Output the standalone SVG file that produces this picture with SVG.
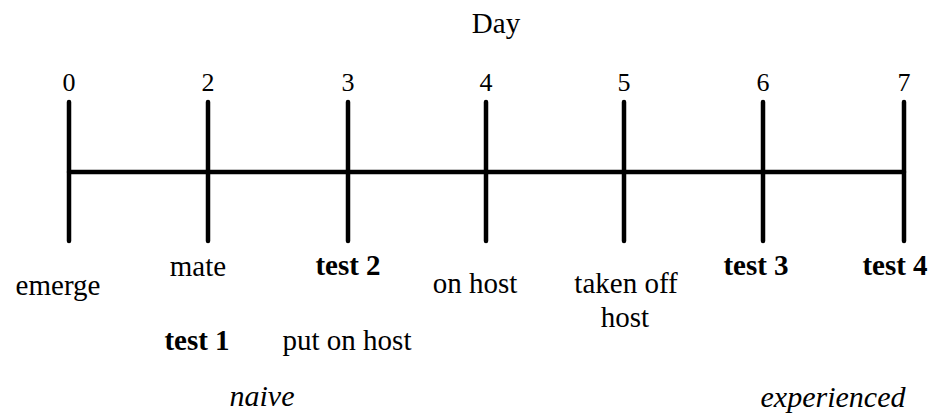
<svg xmlns="http://www.w3.org/2000/svg" width="934" height="418" viewBox="0 0 934 418">
<style>
text{font-family:"Liberation Serif","Times New Roman",serif;font-size:29px;fill:#000;text-anchor:middle}
.num{font-size:26px}
.b{font-weight:bold}
.i{font-style:italic;font-size:30px}
line{stroke:#000;stroke-width:4.5;stroke-linecap:round}
</style>
<rect width="934" height="418" fill="#fff"/>
<text id="day" x="496" y="33">Day</text>
<g id="connectors">
<line x1="69" y1="172" x2="904" y2="172"/>
</g>
<g id="tick0"><line x1="69" y1="102" x2="69" y2="241"/><text class="num" x="69" y="91">0</text><text x="58" y="295">emerge</text></g>
<g id="tick2"><line x1="208" y1="102" x2="208" y2="241"/><text class="num" x="208" y="91">2</text><text x="198" y="276">mate</text><text class="b" x="197" y="350">test 1</text></g>
<g id="tick3"><line x1="348" y1="102" x2="348" y2="241"/><text class="num" x="348" y="91">3</text><text class="b" x="348" y="275">test 2</text><text x="347" y="350">put on host</text></g>
<g id="tick4"><line x1="486" y1="102" x2="486" y2="241"/><text class="num" x="486" y="91">4</text><text x="475" y="293">on host</text></g>
<g id="tick5"><line x1="624" y1="102" x2="624" y2="241"/><text class="num" x="624" y="91">5</text><text x="626" y="293">taken off</text><text x="625" y="327">host</text></g>
<g id="tick6"><line x1="763" y1="102" x2="763" y2="241"/><text class="num" x="763" y="91">6</text><text class="b" x="756" y="275">test 3</text></g>
<g id="tick7"><line x1="904" y1="102" x2="904" y2="241"/><text class="num" x="904" y="91">7</text><text class="b" x="895" y="275">test 4</text></g>
<text id="naive" class="i" x="262" y="406">naive</text>
<text id="experienced" class="i" x="833" y="407">experienced</text>
</svg>
